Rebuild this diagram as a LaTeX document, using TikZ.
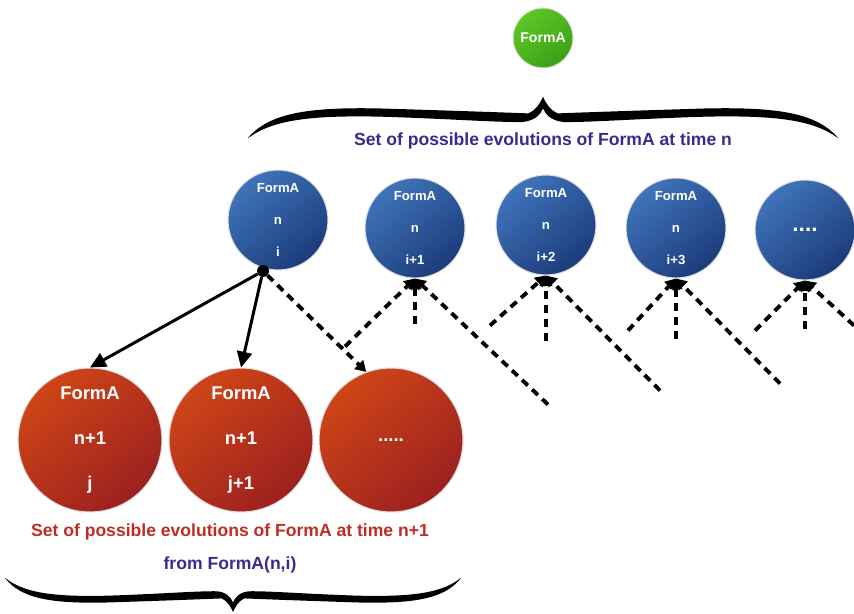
\documentclass[tikz,border=0pt]{standalone}
\usepackage{fontspec}
\setmainfont{Liberation Sans}
\usetikzlibrary{arrows.meta,calc}

\definecolor{formblue}{HTML}{3F74BA}
\definecolor{formbluedark}{HTML}{1C3B7A}
\definecolor{formred}{HTML}{CF4517}
\definecolor{formreddark}{HTML}{9C201F}
\definecolor{formgreen}{HTML}{5CC827}
\definecolor{formgreendark}{HTML}{3BA116}
\definecolor{capred}{HTML}{BE2D25}
\definecolor{capblue}{HTML}{3A2A8C}

\tikzset{
  state/.style={circle, draw=black!12, line width=0.6pt, text=white, align=center, inner sep=0pt},
  bstate/.style={state, minimum size=2cm, top color=formblue, bottom color=formbluedark,
    shading angle=40, font=\bfseries\fontsize{7.5}{18}\selectfont},
  rstate/.style={state, minimum size=2.88cm, top color=formred, bottom color=formreddark,
    shading angle=40, font=\bfseries\fontsize{10.5}{25.5}\selectfont},
  gstate/.style={state, minimum size=1.2cm, top color=formgreen, bottom color=formgreendark,
    shading angle=40, font=\bfseries\fontsize{8}{10}\selectfont},
  dot/.style={circle, fill=black, inner sep=0pt, minimum size=0.24cm},
  caption/.style={font=\bfseries\fontsize{10}{12}\selectfont, inner sep=0pt},
  link/.style={-{Triangle[length=9pt,width=8.5pt]}, line width=1.7pt},
  hop/.style={-{Triangle[length=6pt,width=7pt]}, line width=2.2pt, dash pattern=on 4.5pt off 3.4pt},
  cbrace/.pic={
    % two mirrored halves of a curly brace, ends at (-1,0) and (1,0), tip at (0,-1)
    \foreach \s in {1,-1}
      \fill[xscale=\s] (-1,0) .. controls (-0.93,-0.6) and (-0.8,-0.76) .. (-0.55,-0.72)
        .. controls (-0.32,-0.67) and (-0.12,-0.62) .. (-0.05,-0.6)
        .. controls (-0.02,-0.7) and (-0.01,-0.86) .. (0,-1)
        -- (0,-0.72)
        .. controls (-0.01,-0.55) and (-0.03,-0.42) .. (-0.07,-0.39)
        .. controls (-0.16,-0.38) and (-0.32,-0.47) .. (-0.55,-0.52)
        .. controls (-0.8,-0.56) and (-0.92,-0.42) .. cycle;
  }
}

\begin{document}
\begin{tikzpicture}[x=0.02cm, y=-0.02cm]
  \useasboundingbox (0,0) rectangle (854,614);

  % the form at the top
  \node[gstate] (form) at (543,38) {FormA};
  \pic[xscale=295, yscale=41] at (543,138) {cbrace};
  \node[caption, text=capblue] (capn) at (543,141) {Set of possible evolutions of FormA at time n};

  % evolutions at time n
  \node[bstate] (b1) at (278,220) {FormA\\n\\i};
  \node[bstate] (b2) at (415,228) {FormA\\n\\i+1};
  \node[bstate] (b3) at (546,225) {FormA\\n\\i+2};
  \node[bstate] (b4) at (676,228) {FormA\\n\\i+3};
  \node[bstate] (b5) at (805,230) {\fontsize{13}{13}\selectfont....};

  % evolutions at time n+1
  \node[rstate] (r1) at (90,440) {FormA\\n+1\\j};
  \node[rstate] (r2) at (241,440) {FormA\\n+1\\j+1};
  \node[rstate] (r3) at (391,440) {.....};

  \node[dot] (dot) at (263,271) {};
  \draw[link] (dot) -- (r1.north);
  \draw[link] (dot) -- (r2.north);
  \draw[hop] (dot) -- (r3.110);

  % dashed fans under the other states
  \foreach \b/\lx/\ly/\vy/\rx/\ry in {b2/-70/68/45/133/126, b3/-56/50/65/114/115,
                                      b4/-48/52/60/104/105, b5/-50/50/48/49/45}{
    \coordinate (\b-l) at ($(\b.south)+(\lx,\ly)$);
    \coordinate (\b-v) at ($(\b.south)+(0,\vy)$);
    \coordinate (\b-r) at ($(\b.south)+(\rx,\ry)$);
    \draw[hop] (\b-l) -- (\b.south);
    \draw[hop] (\b-v) -- (\b.south);
    \draw[hop] (\b-r) -- (\b.south);
  }

  \node[caption, text=capred] (capr) at (230,532) {Set of possible evolutions of FormA at time n+1};
  \node[caption, text=capblue] (capf) at (230,565) {from FormA(n,i)};
  \pic[xscale=228, yscale=-34] at (233,578) {cbrace};
\end{tikzpicture}
\end{document}
